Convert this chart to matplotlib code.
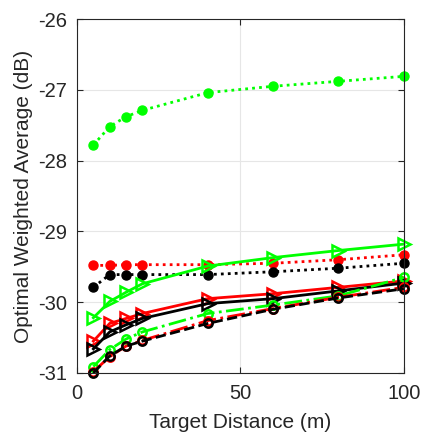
import numpy as np
import matplotlib.pyplot as plt

plt.rcParams['font.family'] = ['Liberation Sans', 'DejaVu Sans']

# Дистанция до цели (м)
distance = [5, 10, 15, 20, 40, 60, 80, 100]

# Зелёные кривые
green_dotted = [-27.78, -27.52, -27.38, -27.29, -27.04, -26.95, -26.88, -26.81]
green_solid = [-30.22, -29.99, -29.86, -29.74, -29.49, -29.37, -29.27, -29.18]
green_dashdot = [-30.91, -30.67, -30.52, -30.42, -30.16, -30.04, -29.91, -29.65]

# Красные кривые
red_dotted = [-29.48, -29.48, -29.47, -29.47, -29.47, -29.45, -29.40, -29.33]
red_solid = [-30.55, -30.30, -30.23, -30.16, -29.95, -29.88, -29.79, -29.70]
red_dashdot = [-30.98, -30.77, -30.62, -30.54, -30.26, -30.09, -29.93, -29.79]

# Чёрные кривые
black_dotted = [-29.79, -29.61, -29.61, -29.61, -29.61, -29.57, -29.52, -29.45]
black_solid = [-30.66, -30.42, -30.32, -30.23, -30.02, -29.95, -29.84, -29.73]
black_dashed = [-31.00, -30.76, -30.62, -30.55, -30.30, -30.10, -29.94, -29.81]

fig = plt.figure(figsize=(4.22, 4.32), dpi=100)
ax = fig.add_axes([0.1825, 0.1366, 0.7745, 0.8194])

g, r, k = (0, 1, 0), (1, 0, 0), (0, 0, 0)
lw = 2.0

# Пунктир с закрашенными кружками
for y, c in [(green_dotted, g), (red_dotted, r), (black_dotted, k)]:
    ax.plot(distance, y, color=c, lw=lw, ls=(0, (1, 1.5)), marker='o', ms=6.5,
            mfc=c, mec=c, clip_on=False)

# Сплошные линии с треугольниками
for y, c in [(green_solid, g), (red_solid, r), (black_solid, k)]:
    ax.plot(distance, y, '-', color=c, lw=lw, marker='>', ms=8, mfc='none', mec=c, mew=1.8, clip_on=False)

# Штрихпунктир с пустыми кружками
for y, c, ls in [(green_dashdot, g, '-.'), (red_dashdot, r, '-.'), (black_dashed, k, '--')]:
    ax.plot(distance, y, ls, color=c, lw=lw, marker='o', ms=6, mfc='none', mec=c, mew=1.8, clip_on=False)

ax.set_xlim(0, 100)
ax.set_ylim(-31, -26)
ax.set_xticks([0, 50, 100])
ax.set_yticks([-31, -30, -29, -28, -27, -26])
ax.set_xticklabels(['0', '50', '100'])
ax.set_yticklabels(['-31', '-30', '-29', '-28', '-27', '-26'])
ax.tick_params(direction='in', length=4, width=0.8, labelsize=14.5, colors='#262626',
               top=True, right=True)
ax.tick_params(axis='x', pad=8)
ax.tick_params(axis='y', pad=7)
ax.grid(True, color='#e6e6e6', lw=0.8)
ax.set_axisbelow(True)
for s in ax.spines.values():
    s.set_color('#262626')
    s.set_linewidth(0.8)

ax.set_xlabel('Target Distance (m)', fontsize=15, color='#262626', labelpad=7)
ax.set_ylabel('Optimal Weighted Average (dB)', fontsize=15, color='#262626', labelpad=4)

fig.savefig('out.png', dpi=100)
